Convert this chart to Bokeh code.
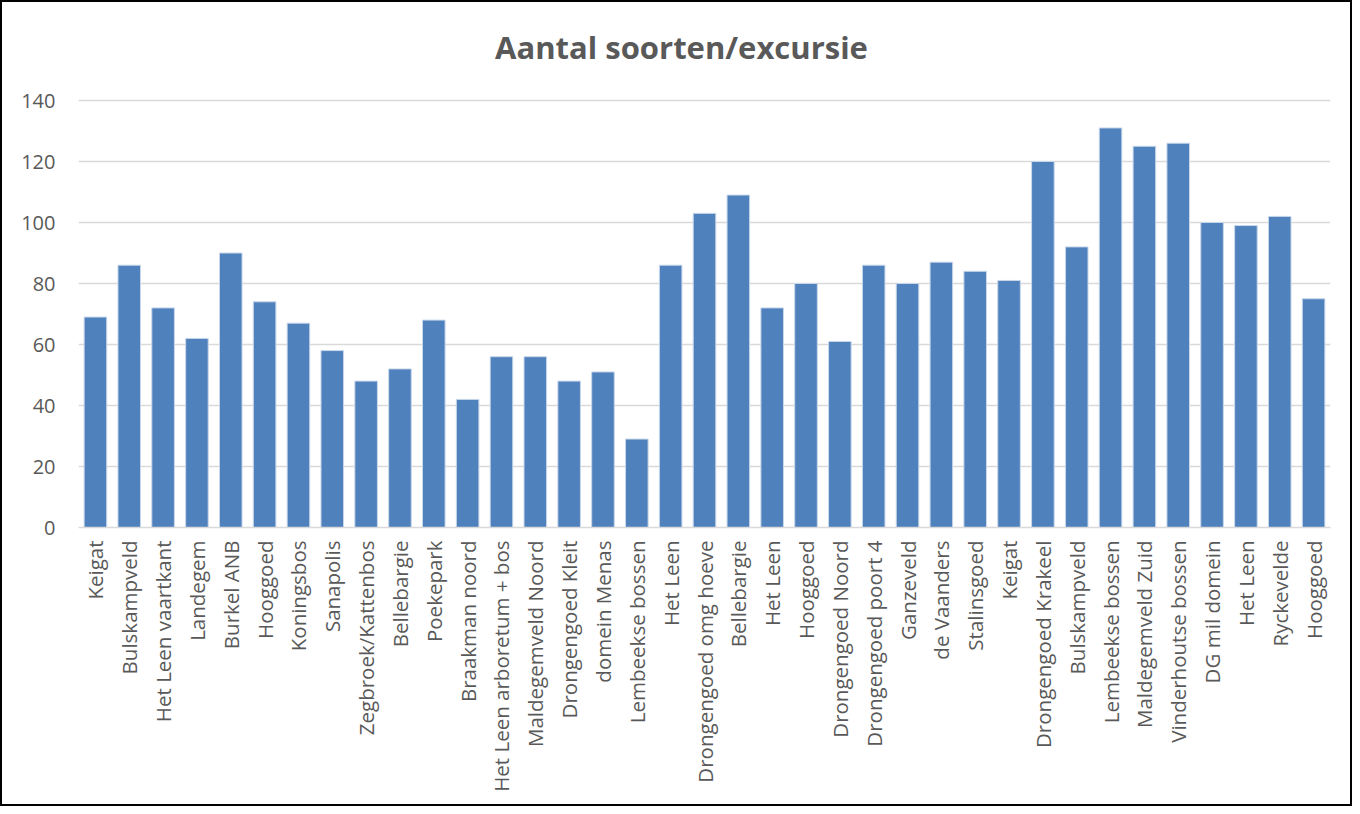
from bokeh.plotting import figure
from bokeh.models import FixedTicker, Range1d, ColumnDataSource, Label
from bokeh.embed import file_html
from bokeh.resources import INLINE
import math

names = ["Keigat", "Bulskampveld", "Het Leen vaartkant", "Landegem", "Burkel ANB",
         "Hooggoed", "Koningsbos", "Sanapolis", "Zegbroek/Kattenbos", "Bellebargie",
         "Poekepark", "Braakman noord", "Het Leen arboretum + bos", "Maldegemveld Noord",
         "Drongengoed Kleit", "domein Menas", "Lembeekse bossen", "Het Leen",
         "Drongengoed omg hoeve", "Bellebargie", "Het Leen", "Hooggoed",
         "Drongengoed Noord", "Drongengoed poort 4", "Ganzeveld", "de Vaanders",
         "Stalinsgoed", "Keigat", "Drongengoed Krakeel", "Bulskampveld",
         "Lembeekse bossen", "Maldegemveld Zuid", "Vinderhoutse bossen", "DG mil domein",
         "Het Leen", "Ryckevelde", "Hooggoed"]
counts = [69, 86, 72, 62, 90, 74, 67, 58, 48, 52, 68, 42, 56, 56, 48, 51, 29, 86,
          103, 109, 72, 80, 61, 86, 80, 87, 84, 81, 120, 92, 131, 125, 126, 100,
          99, 102, 75]
y_ticks = [0, 20, 40, 60, 80, 100, 120, 140]
title_text = "Aantal soorten/excursie"

# layout (pixels on the canvas)
H, W = 806, 1352
frame_top_px, axis_top_px, axis_bottom_px = 8, 98, 525
left_px, right_px = 76, 1328
title_cx_px, title_cy_px = 679, 44

units_per_px = 140 / (axis_bottom_px - axis_top_px)
y_end = 140 + (axis_top_px - frame_top_px) * units_per_px
n = len(names)
title_x = 0.5 + (title_cx_px - left_px) * n / (right_px - left_px)
title_y = 140 + (axis_top_px - title_cy_px) * units_per_px

positions = list(range(1, n + 1))
src = ColumnDataSource(dict(x=positions, top=counts))

p = figure(width=W, height=H, output_backend="svg", toolbar_location=None,
           x_range=Range1d(0.5, n + 0.5), y_range=Range1d(0, y_end))
p.styles = {"border": "2px solid black"}
p.min_border_left = left_px
p.min_border_right = W - right_px
p.min_border_top = frame_top_px
p.min_border_bottom = H - axis_bottom_px
p.outline_line_color = None

p.add_layout(Label(x=title_x, y=title_y, text=title_text, text_align="center",
                   text_baseline="middle", text_font="Open Sans",
                   text_font_style="bold", text_font_size="31px",
                   text_color="#595959"))

p.vbar(x="x", top="top", width=0.667, source=src, fill_color="#4F81BD",
       line_color="#C9D7EA", line_width=1)

p.xgrid.grid_line_color = None
p.ygrid.grid_line_color = "#D9D9D9"
p.ygrid.grid_line_width = 1.5
p.yaxis.ticker = FixedTicker(ticks=y_ticks)
p.yaxis.axis_line_color = None
p.yaxis.major_tick_line_color = None
p.yaxis.minor_tick_line_color = None
p.yaxis.major_label_text_font = "Open Sans"
p.yaxis.major_label_text_font_size = "20px"
p.yaxis.major_label_text_color = "#595959"
p.yaxis.major_label_standoff = 17

p.xaxis.ticker = FixedTicker(ticks=positions)
p.xaxis.major_label_overrides = {i: nm for i, nm in zip(positions, names)}
p.xaxis.major_label_orientation = math.pi / 2
p.xaxis.axis_line_color = "#D9D9D9"
p.xaxis.axis_line_width = 1.5
p.xaxis.major_tick_line_color = None
p.xaxis.minor_tick_line_color = None
p.xaxis.major_label_text_font = "Open Sans"
p.xaxis.major_label_text_font_size = "20.5px"
p.xaxis.major_label_text_color = "#595959"
p.xaxis.major_label_standoff = 7

open("out.html", "w").write(file_html(p, INLINE))
